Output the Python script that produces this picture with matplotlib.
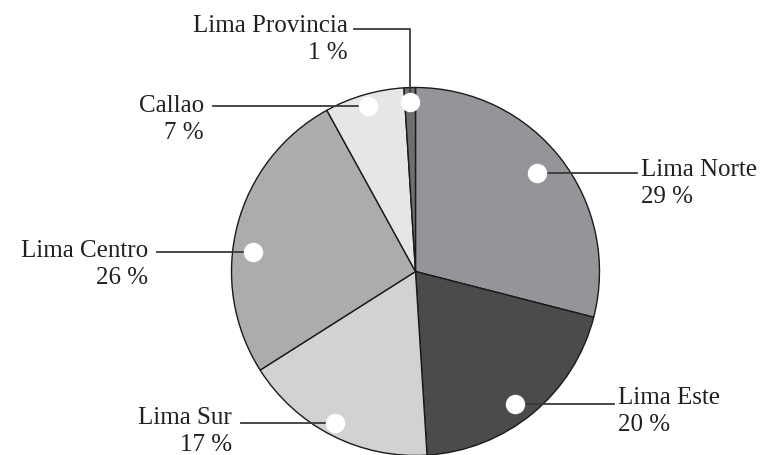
import numpy as np
import matplotlib.pyplot as plt

regions = ['Lima Norte', 'Lima Este', 'Lima Sur', 'Lima Centro', 'Callao', 'Lima Provincia']
shares = [29, 20, 17, 26, 7, 1]
colors = ['#939598', '#4b4b4d', '#d1d2d4', '#abacae', '#e5e6e7', '#6d6e70']

# label anchors in pixels from the top-left: (x, baseline y), alignment
label_pos = {
    'Lima Norte': (641, 176, 'left'),
    'Lima Este': (618, 404, 'left'),
    'Lima Sur': (232, 424, 'right'),
    'Lima Centro': (148, 257, 'right'),
    'Callao': (204, 112, 'right'),
    'Lima Provincia': (348, 32, 'right'),
}
# marker placement inside each wedge: angle shift from mid (deg), radius fraction
dot_shift = [1.0, -2.5, -0.9, 7.4, 0.0, 0.0]
dot_r = [0.85, 0.90, 0.93, 0.89, 0.935, 0.92]

W, H = 770, 456
cx, cy, R = 415.5, H - 272.5, 184

plt.rcParams['font.family'] = 'Liberation Serif'
fig = plt.figure(figsize=(W / 100, H / 100), dpi=100)
ax = fig.add_axes([0, 0, 1, 1])

wedges, _ = ax.pie(shares, colors=colors, startangle=90, counterclock=False,
                   center=(cx, cy), radius=R, frame=True,
                   wedgeprops=dict(edgecolor='#1a1a1a', linewidth=1.0))
ax.set_xlim(0, W)
ax.set_ylim(0, H)
ax.set_aspect('equal')
ax.axis('off')

for w, name, share, sh, rr in zip(wedges, regions, shares, dot_shift, dot_r):
    mid = np.deg2rad((w.theta1 + w.theta2) / 2 + sh)
    dx = cx + rr * R * np.cos(mid)
    dy = cy + rr * R * np.sin(mid)
    tx, ty, ha = label_pos[name]
    ty = H - ty
    if name == 'Lima Provincia':
        ax.plot([tx + 6, dx, dx], [ty + 2, ty + 2, dy], color='#3a3a3a', lw=1.3, zorder=3)
    elif ha == 'left':
        ax.plot([dx, tx - 4], [dy, dy], color='#3a3a3a', lw=1.3, zorder=3)
    else:
        ax.plot([dx, tx + 9], [dy, dy], color='#3a3a3a', lw=1.3, zorder=3)
    ax.plot(dx, dy, 'o', ms=14, mfc='white', mec='none', zorder=4)
    ax.text(tx, ty, name, ha=ha, va='baseline', fontsize=18, color='#231f20')
    ax.text(tx, ty - 27, f'{share} %', ha=ha, va='baseline', fontsize=18, color='#231f20')

fig.savefig('out.png', dpi=100)
